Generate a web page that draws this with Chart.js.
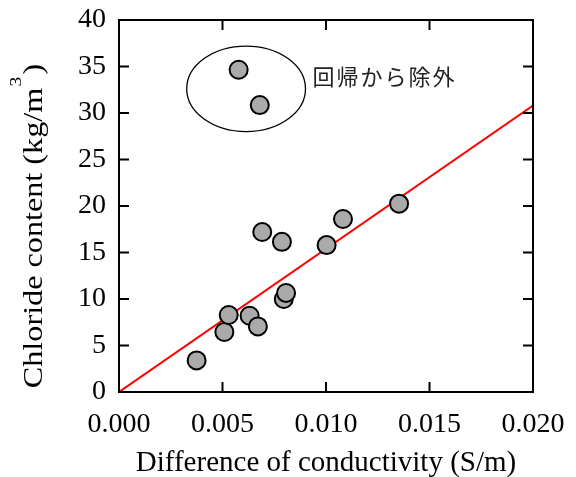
<!DOCTYPE html>
<html>
<head>
<meta charset="utf-8">
<script src="https://cdn.jsdelivr.net/npm/chart.js@4.4.0/dist/chart.umd.min.js"></script>
<style>
  html, body { margin: 0; padding: 0; background: #fff; }
  #wrap { width: 576px; height: 477px; }
</style>
</head>
<body>
<div id="wrap"><canvas id="grafico" width="576" height="477"></canvas></div>
<script>
// dados
const xTicks = [0, 0.005, 0.010, 0.015, 0.020];
const yTicks = [0, 5, 10, 15, 20, 25, 30, 35, 40];
const condX = [0.00375, 0.00509, 0.0053, 0.00631, 0.00671, 0.00692, 0.00787, 0.00796, 0.00807, 0.01003, 0.01082, 0.01353];
const chlorY = [3.4, 6.45, 8.28, 8.2, 7.05, 17.2, 16.15, 10.0, 10.65, 15.8, 18.6, 20.25];
const excludedX = [0.00578, 0.0068];
const excludedY = [34.65, 30.85];
const fitX = [0, 0.020];
const fitY = [0, 30.8];
const ellipseCenter = [0.00614, 32.6];
const ellipseRadius = [0.00287, 4.6];
const notePos = [0.00935, 33.95];
const noteLabel = "回帰から除外";
const xTitle = "Difference of conductivity (S/m)";
const yTitle = ["Chloride content (kg/m", "3", ")"];

const serif = "'Liberation Serif', 'Times New Roman', serif";

function pontos(xs, ys) {
  return xs.map(function (x, i) {
    return { x: x, y: ys[i] };
  });
}

// moldura, ticks para dentro, elipse e titulo do eixo y
const molduraPlugin = {
  id: "moldura",
  afterDatasetsDraw(chart) {
    const ctx = chart.ctx;
    const sx = chart.scales.x, sy = chart.scales.y;
    // elipse dos pontos excluidos
    const cx = sx.getPixelForValue(ellipseCenter[0]);
    const cy = sy.getPixelForValue(ellipseCenter[1]);
    const rx = sx.getPixelForValue(ellipseCenter[0] + ellipseRadius[0]) - cx;
    const ry = cy - sy.getPixelForValue(ellipseCenter[1] + ellipseRadius[1]);
    ctx.save();
    ctx.beginPath();
    ctx.ellipse(cx, cy, rx, ry, 0, 0, Math.PI * 2);
    ctx.lineWidth = 1.3;
    ctx.strokeStyle = "#000";
    ctx.stroke();
    ctx.font = "22px 'Noto Sans CJK JP'";
    ctx.letterSpacing = "2px";
    ctx.fillStyle = "#222";
    ctx.textBaseline = "middle";
    ctx.fillText(noteLabel, sx.getPixelForValue(notePos[0]), sy.getPixelForValue(notePos[1]));
    ctx.restore();
  },
  afterDraw(chart) {
    const ctx = chart.ctx;
    const a = chart.chartArea;
    const sx = chart.scales.x, sy = chart.scales.y;
    const tl = 10;
    ctx.save();
    ctx.strokeStyle = "#000";
    ctx.lineWidth = 2;
    ctx.beginPath();
    xTicks.forEach(function (v) {
      const px = sx.getPixelForValue(v);
      ctx.moveTo(px, a.bottom); ctx.lineTo(px, a.bottom - tl);
      ctx.moveTo(px, a.top); ctx.lineTo(px, a.top + tl);
    });
    yTicks.forEach(function (v) {
      const py = sy.getPixelForValue(v);
      ctx.moveTo(a.left, py); ctx.lineTo(a.left + tl, py);
      ctx.moveTo(a.right, py); ctx.lineTo(a.right - tl, py);
    });
    ctx.stroke();
    ctx.strokeRect(a.left, a.top, a.right - a.left, a.bottom - a.top);

    // titulo y com expoente
    ctx.fillStyle = "#000";
    ctx.textBaseline = "alphabetic";
    ctx.textAlign = "left";
    const mainFont = "28px " + serif;
    const supFont = "17px " + serif;
    const stretch = 1.15;
    ctx.font = mainFont;
    const w1 = ctx.measureText(yTitle[0]).width;
    const w3 = ctx.measureText(yTitle[2]).width;
    ctx.font = supFont;
    const w2 = ctx.measureText(yTitle[1]).width;
    const total = (w1 + w2 + 3 + w3) * stretch;
    const centerY = 226;
    ctx.translate(42, centerY + total / 2);
    ctx.rotate(-Math.PI / 2);
    ctx.scale(stretch, 1);
    ctx.font = mainFont;
    ctx.fillText(yTitle[0], 0, 0);
    ctx.font = supFont;
    ctx.fillText(yTitle[1], w1 + 1, -21);
    ctx.font = mainFont;
    ctx.fillText(yTitle[2], w1 + w2 + 3, 0);
    ctx.restore();
  },
};

Chart.defaults.color = "#000";

var ctx = document.getElementById("grafico").getContext("2d");
var myChart = new Chart(ctx, {
  type: "scatter",
  data: {
    datasets: [
      {
        label: "data",
        data: pontos(condX, chlorY),
        pointRadius: 9,
        pointHoverRadius: 9,
        borderWidth: 2,
        borderColor: "#000",
        backgroundColor: "#aaaaaa",
        order: 1,
      },
      {
        label: "excluded",
        data: pontos(excludedX, excludedY),
        pointRadius: 9,
        pointHoverRadius: 9,
        borderWidth: 2,
        borderColor: "#000",
        backgroundColor: "#aaaaaa",
        order: 1,
      },
      {
        type: "line",
        label: "fit",
        data: pontos(fitX, fitY),
        borderColor: "#ff0000",
        borderWidth: 2,
        pointRadius: 0,
        fill: false,
        order: 2,
      },
    ],
  },
  options: {
    responsive: false,
    animation: false,
    events: [],
    layout: { padding: { top: 20, right: 43, bottom: 0, left: 0 } },
    plugins: {
      legend: { display: false },
      tooltip: { enabled: false },
    },
    scales: {
      x: {
        type: "linear",
        min: 0,
        max: 0.02,
        afterBuildTicks: function (scale) {
          scale.ticks = xTicks.map(function (v) { return { value: v }; });
        },
        afterFit: function (scale) {
          scale.height = 85;
          scale.paddingLeft = 0;
          scale.paddingRight = 0;
        },
        grid: { display: false, drawTicks: false },
        border: { display: false },
        ticks: {
          padding: 16,
          font: { family: serif, size: 28 },
          callback: function (v) { return v.toFixed(3); },
        },
        title: {
          display: true,
          text: xTitle,
          font: { family: serif, size: 29, lineHeight: 0.95 },
          padding: { top: 0, bottom: 0 },
        },
      },
      y: {
        type: "linear",
        min: 0,
        max: 40,
        afterBuildTicks: function (scale) {
          scale.ticks = yTicks.map(function (v) { return { value: v }; });
        },
        afterFit: function (scale) {
          scale.width = 119;
          scale.paddingTop = 0;
          scale.paddingBottom = 0;
        },
        grid: { display: false, drawTicks: false },
        border: { display: false },
        ticks: {
          padding: 13,
          font: { family: serif, size: 28 },
        },
      },
    },
  },
  plugins: [molduraPlugin],
});
</script>
</body>
</html>
